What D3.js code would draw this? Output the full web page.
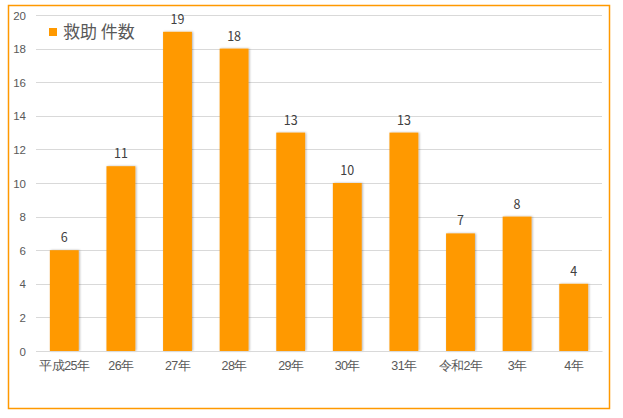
<!DOCTYPE html>
<html lang="ja">
<head>
  <meta charset="UTF-8">
  <title>救助 件数</title>
  <style>
  body { margin: 0; background: #fff; }
  svg { display: block; font-family: "Noto Sans CJK JP", "Liberation Sans", sans-serif; }
  .tick text { fill: #595959; font-size: 11px; }
  </style>
</head>
<body>
  <svg></svg>
  <script src="https://d3js.org/d3.v7.min.js"></script>
  <script>
  var years = ["平成25年", "26年", "27年", "28年", "29年", "30年", "31年", "令和2年", "3年", "4年"];
  var counts = [6, 11, 19, 18, 13, 10, 13, 7, 8, 4];
  var yTicks = [0, 2, 4, 6, 8, 10, 12, 14, 16, 18, 20];
  var seriesName = "救助 件数";

  var width = 623, height = 418;
  // plot area (window.top is taken, so prefix these)
  var plotL = 36, plotR = 602, plotT = 15, plotB = 351;
  var orange = "#ff9900";

  var svg = d3.select("svg").attr("width", width).attr("height", height);

  // light shadow on the bars
  var f = svg.append("defs").append("filter").attr("id", "sh")
      .attr("x", "-20%").attr("y", "-5%").attr("width", "140%").attr("height", "110%");
  f.append("feDropShadow").attr("dx", 1).attr("dy", 0).attr("stdDeviation", 0.8)
      .attr("flood-color", "#000").attr("flood-opacity", 0.3);

  // outer border
  svg.append("rect").attr("x", 8.5).attr("y", 5.5).attr("width", 601).attr("height", 403)
      .attr("fill", "#fff").attr("stroke", orange).attr("stroke-width", 1.5);

  var x = d3.scaleBand().domain(years).range([plotL, plotR]).paddingInner(0.49).paddingOuter(0.245);
  var y = d3.scaleLinear().domain([0, 20]).range([plotB, plotT]);

  // grid
  svg.append("g").selectAll("line").data(yTicks).enter().append("line")
      .attr("x1", plotL).attr("x2", plotR)
      .attr("y1", d => Math.round(y(d)) + 0.5).attr("y2", d => Math.round(y(d)) + 0.5)
      .attr("stroke", "#d9d9d9").attr("stroke-width", 1);

  var yAxis = svg.append("g").attr("transform", "translate(" + plotL + ",0)")
      .call(d3.axisLeft(y).tickValues(yTicks).tickSize(0).tickPadding(10));
  yAxis.select(".domain").remove();
  yAxis.selectAll("text").attr("dy", "0.35em").style("font-size", "11.5px");

  svg.append("g").selectAll("rect").data(counts).enter().append("rect")
      .attr("x", (d, i) => x(years[i]))
      .attr("width", x.bandwidth())
      .attr("y", d => y(d))
      .attr("height", d => y(0) - y(d))
      .attr("fill", orange)
      .attr("filter", "url(#sh)");

  var xAxis = svg.append("g").attr("transform", "translate(0," + plotB + ")")
      .call(d3.axisBottom(x).tickSize(0).tickPadding(10));
  xAxis.select(".domain").attr("stroke", "#d9d9d9");
  xAxis.selectAll("text").style("font-size", "12.5px").style("letter-spacing", "-0.6px");

  // value labels
  svg.append("g").selectAll("text").data(counts).enter().append("text")
      .attr("x", (d, i) => x(years[i]) + x.bandwidth() / 2)
      .attr("y", d => y(d) - 8)
      .attr("text-anchor", "middle")
      .attr("fill", "#404040").attr("font-size", 12.5)
      .text(d => d);

  // legend
  var lg = svg.append("g").attr("transform", "translate(49,28)");
  lg.append("rect").attr("width", 8).attr("height", 8).attr("fill", orange);
  lg.append("text").attr("x", 14).attr("y", 4).attr("dy", "0.36em")
      .attr("fill", "#595959").attr("font-size", 17).text(seriesName);
  </script>
</body>
</html>
